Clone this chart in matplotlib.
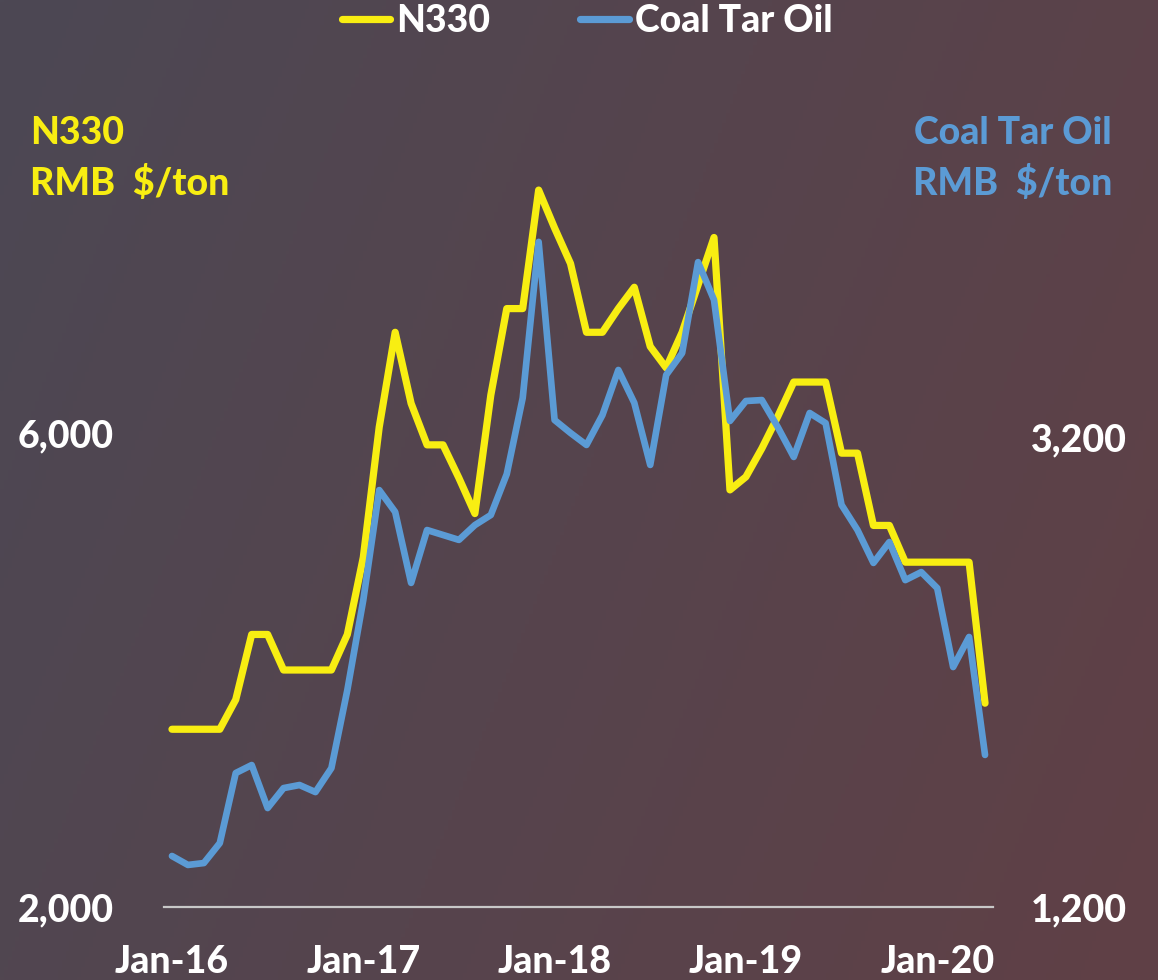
import numpy as np
import pandas as pd
import matplotlib
matplotlib.use("Agg")
import matplotlib.pyplot as plt
from matplotlib.lines import Line2D

# monthly prices, Jan-16 .. Apr-20
months = pd.date_range("2016-01-01", periods=52, freq="MS")
n330 = [3500, 3500, 3500, 3500, 3750, 4300, 4300, 4000, 4000, 4000, 4000, 4300,
        4950, 6050, 6850, 6250, 5900, 5900, 5620, 5320, 6320, 7050, 7050, 8050,
        7730, 7430, 6850, 6850, 7050, 7230, 6730, 6550, 6850, 7250, 7650, 5520,
        5630, 5870, 6140, 6430, 6430, 6430, 5830, 5830, 5220, 5220, 4910, 4910,
        4910, 4910, 4910, 3720]
coal_tar = [1417, 1379, 1387, 1472, 1770, 1804, 1621, 1706, 1719, 1689, 1791, 2123,
            2506, 2974, 2881, 2579, 2804, 2783, 2762, 2825, 2868, 3042, 3366, 4030,
            3272, 3217, 3166, 3293, 3485, 3345, 3081, 3464, 3557, 3944, 3783, 3268,
            3353, 3357, 3242, 3115, 3302, 3259, 2911, 2804, 2664, 2753, 2591, 2625,
            2557, 2221, 2349, 1847]
xlabels = ["Jan-16", "Jan-17", "Jan-18", "Jan-19", "Jan-20"]

YELLOW = "#F8EE12"
BLUE = "#5B9BD5"
plt.rcParams["font.family"] = ["Lato", "DejaVu Sans"]
plt.rcParams["font.weight"] = "black"
FS = 27

fig = plt.figure(figsize=(11.58, 9.8), dpi=100)

# gradient background
bg = fig.add_axes([0, 0, 1, 1], zorder=-10)
gx, gy = np.meshgrid(np.linspace(0, 1, 300), np.linspace(0, 1, 300))
t = np.clip(0.75 * gx + 0.25 * gy, 0, 1)
c0 = np.array([76, 72, 84]) / 255.0
c1 = np.array([96, 64, 70]) / 255.0
img = c0[None, None, :] * (1 - t[..., None]) + c1[None, None, :] * t[..., None]
bg.imshow(img, aspect="auto", extent=[0, 1, 0, 1], origin="upper")
bg.axis("off")

x = np.arange(len(months))
ax = fig.add_axes([164 / 1158, 73 / 980, 829 / 1158, 807 / 980])
ax.patch.set_alpha(0)
ax2 = ax.twinx()
ax2.patch.set_alpha(0)

ax.plot(x, n330, color=YELLOW, lw=5.2, solid_joinstyle="round", solid_capstyle="round", zorder=2)
ax2.plot(x, coal_tar, color=BLUE, lw=4.8, solid_joinstyle="round", solid_capstyle="round", zorder=3)

ax.set_xlim(-0.5, len(x) - 0.5)
ax.set_ylim(2000, 2000 + 807 * 8.439)
ax2.set_ylim(1200, 1200 + 807 * 4.255)
ax.set_yticks([2000, 6000])
ax.set_yticklabels(["2,000", "6,000"])
ax2.set_yticks([1200, 3200])
ax2.set_yticklabels(["1,200", "3,200"])
ax.set_xticks([i for i, m in enumerate(months) if m.month == 1])
ax.set_xticklabels(xlabels)

for a in (ax, ax2):
    for s in a.spines.values():
        s.set_visible(False)
    a.tick_params(length=0, colors="white", labelsize=FS)
ax.spines["bottom"].set_visible(True)
ax.spines["bottom"].set_color("#C8C8C8")
ax.spines["bottom"].set_linewidth(1.6)
ax.tick_params(axis="y", pad=36)
ax2.tick_params(axis="y", pad=27)
ax.tick_params(axis="x", pad=27)

fig.text(30 / 1158, 1 - 133 / 980, "N330", color=YELLOW, fontsize=FS, va="center", ha="left")
fig.text(30 / 1158, 1 - 183 / 980, "RMB  $/ton", color=YELLOW, fontsize=FS, va="center", ha="left")
fig.text(1112 / 1158, 1 - 133 / 980, "Coal Tar Oil", color=BLUE, fontsize=FS, va="center", ha="right")
fig.text(1112 / 1158, 1 - 183 / 980, "RMB  $/ton", color=BLUE, fontsize=FS, va="center", ha="right")

handles = [Line2D([], [], color=YELLOW, lw=5.2, solid_capstyle="round"),
           Line2D([], [], color=BLUE, lw=5.2, solid_capstyle="round")]
fig.legend(handles, ["N330", "Coal Tar Oil"], loc="center", bbox_to_anchor=(0.507, 1 - 21 / 980),
           ncol=2, frameon=False, fontsize=FS, labelcolor="white", handlelength=1.3,
           handletextpad=0.16, columnspacing=2.4, borderpad=0)

fig.savefig("out.png", dpi=100)
